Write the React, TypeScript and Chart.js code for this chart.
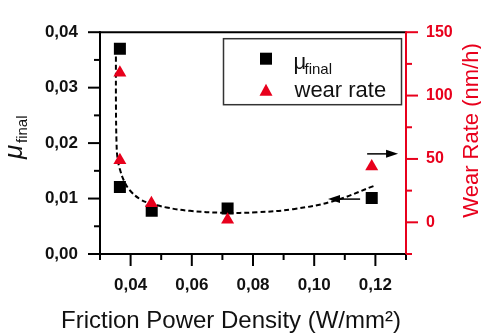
import React, { useEffect, useRef } from 'react';
import { Chart, registerables } from 'chart.js';

Chart.register(...registerables);

// ---- data ----
const muX = [0.0365, 0.0365, 0.0469, 0.0717, 0.1188];
const muY = [0.037, 0.0121, 0.0078, 0.0082, 0.0101];
const wearX = [0.0365, 0.0365, 0.0468, 0.0717, 0.1188];
const wearY = [118, 49, 15, 2, 44];
const fitX = [0.0352, 0.03522, 0.03539, 0.03572, 0.03654, 0.03784, 0.0398, 0.04307, 0.04634, 0.0518, 0.05941, 0.0702, 0.0812, 0.0931, 0.1061, 0.1199];
const fitY = [0.0356, 0.0263, 0.0203, 0.0173, 0.0152, 0.0132, 0.01145, 0.0099, 0.00915, 0.00838, 0.00778, 0.00744, 0.00752, 0.00809, 0.00952, 0.01236];
const xTicks = [0.04, 0.06, 0.08, 0.1, 0.12];
const xMinorTicks = [0.03, 0.05, 0.07, 0.09, 0.11, 0.13];
const yTicks = [0, 0.01, 0.02, 0.03, 0.04];
const yMinorTicks = [0.005, 0.015, 0.025, 0.035];
const y2Ticks = [0, 50, 100, 150];
const y2MinorTicks = [-25, 25, 75, 125];
const xRange = [0.03, 0.13];
const yRange = [0, 0.04];
const y2Range = [-25, 150];
const arrowRight = { x0: 0.1173, x1: 0.1274, y: 54 }; // on wear rate axis
const arrowLeft = { x0: 0.115, x1: 0.1045, y: 0.0099 }; // on mu axis
const legendMu = 'μ';
const legendSub = 'final';
const legendWear = 'wear rate';
const xTitle = 'Friction Power Density (W/mm²)';
const y2Title = 'Wear Rate (nm/h)';

const RED = '#e8001c';
const FONT = '"Liberation Sans", Arial, sans-serif';

const comma = (v: number) => v.toFixed(2).replace('.', ',');

const decorPlugin = {
  id: 'decor',
  beforeDatasetsDraw(chart: any) {
    const { ctx, chartArea, scales } = chart;
    const { left, right, top, bottom } = chartArea;
    const sx = scales.x, sy = scales.y, sy2 = scales.y2;
    ctx.save();
    ctx.lineWidth = 2;
    ctx.lineCap = 'butt';
    const ln = (a: number, b: number, c: number, d: number, col: string) => {
      ctx.strokeStyle = col;
      ctx.beginPath();
      ctx.moveTo(a, b);
      ctx.lineTo(c, d);
      ctx.stroke();
    };
    // frame
    ln(left - 1, top, right, top, '#000');
    ln(left, top - 1, left, bottom + 4, '#000');
    ln(left - 1, bottom, right + 1, bottom, '#000');
    ln(right, top - 1, right, bottom + 1, RED);
    // x ticks
    xTicks.forEach(v => { const p = sx.getPixelForValue(v); ln(p, bottom, p, bottom + 12, '#000'); });
    xMinorTicks.forEach(v => { const p = sx.getPixelForValue(v); ln(p, bottom, p, bottom + 6, '#000'); });
    // left y ticks
    yTicks.forEach(v => { const p = sy.getPixelForValue(v); ln(left, p, left - 12, p, '#000'); });
    yMinorTicks.forEach(v => { const p = sy.getPixelForValue(v); ln(left, p, left - 6, p, '#000'); });
    // right y ticks
    y2Ticks.forEach(v => { const p = sy2.getPixelForValue(v); ln(right, p, right + 12, p, RED); });
    y2MinorTicks.forEach(v => { const p = sy2.getPixelForValue(v); ln(right, p, right + 6, p, RED); });
    ctx.restore();
  },
  afterDatasetsDraw(chart: any) {
    const { ctx, scales } = chart;
    const sx = scales.x, sy = scales.y, sy2 = scales.y2;
    const arrow = (x0: number, x1: number, y: number) => {
      ctx.save();
      ctx.strokeStyle = '#000';
      ctx.fillStyle = '#000';
      ctx.lineWidth = 1.5;
      const dir = Math.sign(x1 - x0);
      ctx.beginPath();
      ctx.moveTo(x0, y);
      ctx.lineTo(x1 - dir * 8, y);
      ctx.stroke();
      ctx.beginPath();
      ctx.moveTo(x1, y);
      ctx.lineTo(x1 - dir * 12, y - 4);
      ctx.lineTo(x1 - dir * 12, y + 4);
      ctx.closePath();
      ctx.fill();
      ctx.restore();
    };
    arrow(sx.getPixelForValue(arrowRight.x0), sx.getPixelForValue(arrowRight.x1), sy2.getPixelForValue(arrowRight.y));
    arrow(sx.getPixelForValue(arrowLeft.x0), sx.getPixelForValue(arrowLeft.x1), sy.getPixelForValue(arrowLeft.y));
  },
  afterDraw(chart: any) {
    const { ctx, chartArea } = chart;
    const { left, top } = chartArea;
    ctx.save();
    // legend box
    const lx = left + 123.5, ly = top + 6.5, lw = 178, lh = 66;
    ctx.strokeStyle = '#333';
    ctx.lineWidth = 1.5;
    ctx.strokeRect(lx, ly, lw, lh);
    ctx.fillStyle = '#000';
    ctx.fillRect(lx + 36.5, ly + 14, 12, 12);
    ctx.fillStyle = RED;
    ctx.beginPath();
    ctx.moveTo(lx + 42.5, ly + 45);
    ctx.lineTo(lx + 49, ly + 57);
    ctx.lineTo(lx + 36, ly + 57);
    ctx.closePath();
    ctx.fill();
    ctx.fillStyle = '#111';
    ctx.textAlign = 'left';
    ctx.textBaseline = 'alphabetic';
    ctx.font = `22px ${FONT}`;
    ctx.fillText(legendMu, lx + 70, ly + 30.5);
    ctx.font = `15px ${FONT}`;
    ctx.fillText(legendSub, lx + 81, ly + 35.5);
    ctx.font = `22px ${FONT}`;
    ctx.fillText(legendWear, lx + 71, ly + 58.5);

    // x title
    ctx.font = `24px ${FONT}`;
    ctx.fillStyle = '#111';
    ctx.textAlign = 'center';
    ctx.fillText(xTitle, 231, 328);

    // left title
    ctx.save();
    ctx.translate(21.5, 159);
    ctx.rotate(-Math.PI / 2);
    ctx.textAlign = 'left';
    ctx.font = `italic 26px ${FONT}`;
    ctx.fillText(legendMu, 0, 0);
    ctx.font = `15px ${FONT}`;
    ctx.fillText(legendSub, 16, 5);
    ctx.restore();

    // right title
    ctx.save();
    ctx.translate(478, 130.5);
    ctx.rotate(-Math.PI / 2);
    ctx.textAlign = 'center';
    ctx.fillStyle = RED;
    ctx.font = `22px ${FONT}`;
    ctx.fillText(y2Title, 0, 0);
    ctx.restore();
    ctx.restore();
  },
};

export default function App() {
  const ref = useRef<HTMLCanvasElement>(null);
  useEffect(() => {
    if (!ref.current) return;
    const chart = new Chart(ref.current, {
      type: 'scatter',
      data: {
        datasets: [
          {
            label: 'wear rate',
            data: wearX.map((x, i) => ({ x, y: wearY[i] })),
            yAxisID: 'y2',
            pointStyle: 'triangle',
            pointRadius: 7.5,
            pointBackgroundColor: RED,
            pointBorderColor: RED,
            pointBorderWidth: 0,
          },
          {
            label: 'μfinal',
            data: muX.map((x, i) => ({ x, y: muY[i] })),
            yAxisID: 'y',
            pointStyle: 'rect',
            pointRadius: 8.5,
            pointBackgroundColor: '#000',
            pointBorderColor: '#000',
            pointBorderWidth: 0,
          },
          {
            type: 'line',
            label: 'fit',
            data: fitX.map((x, i) => ({ x, y: fitY[i] })),
            yAxisID: 'y',
            showLine: true,
            borderColor: '#000',
            borderWidth: 2,
            borderDash: [5, 3],
            pointRadius: 0,
            tension: 0.4,
            fill: false,
          } as any,
        ],
      },
      options: {
        animation: false,
        responsive: false,
        layout: { padding: { top: 20, left: 0, right: 0, bottom: 0 } },
        plugins: { legend: { display: false }, tooltip: { enabled: false } },
        scales: {
          x: {
            type: 'linear',
            position: 'bottom',
            min: xRange[0],
            max: xRange[1],
            grid: { display: false, drawTicks: false },
            border: { display: false },
            afterBuildTicks: (s: any) => { s.ticks = xTicks.map(value => ({ value })); },
            afterFit: (s: any) => { s.height = 81; },
            ticks: {
              autoSkip: false,
              maxRotation: 0,
              padding: 21,
              color: '#111',
              font: { family: FONT, size: 17, weight: 'bold' },
              callback: (v: any) => comma(Number(v)),
            },
          },
          y: {
            type: 'linear',
            position: 'left',
            min: yRange[0],
            max: yRange[1],
            grid: { display: false, drawTicks: false },
            border: { display: false },
            afterBuildTicks: (s: any) => { s.ticks = yTicks.map(value => ({ value })); },
            afterFit: (s: any) => { s.width = 100; },
            ticks: {
              autoSkip: false,
              padding: 22,
              color: '#111',
              font: { family: FONT, size: 17, weight: 'bold' },
              callback: (v: any) => comma(Number(v)),
            },
          },
          y2: {
            type: 'linear',
            position: 'right',
            min: y2Range[0],
            max: y2Range[1],
            grid: { display: false, drawTicks: false },
            border: { display: false },
            afterBuildTicks: (s: any) => { s.ticks = y2Ticks.map(value => ({ value })); },
            afterFit: (s: any) => { s.width = 75; },
            ticks: {
              autoSkip: false,
              padding: 20,
              color: RED,
              font: { family: FONT, size: 16, weight: 'bold' },
              callback: (v: any) => String(v),
            },
          },
        },
      },
      plugins: [decorPlugin],
    } as any);
    return () => chart.destroy();
  }, []);
  return (
    <div style={{ position: 'fixed', left: 0, top: 0, width: 481, height: 335, background: '#fff' }}>
      <canvas ref={ref} width={481} height={335} style={{ display: 'block' }} />
    </div>
  );
}
